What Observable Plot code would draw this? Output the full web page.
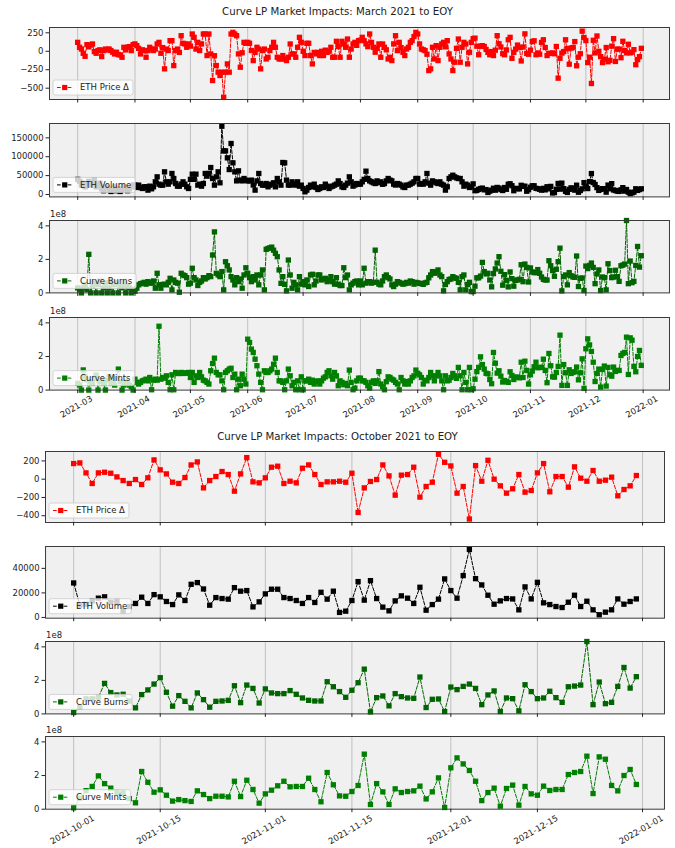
<!DOCTYPE html>
<html><head><meta charset="utf-8">
<script src="https://cdn.jsdelivr.net/npm/d3@7"></script>
<script src="https://cdn.jsdelivr.net/npm/@observablehq/plot@0.6"></script>
<style>
body{margin:0;background:#fff;font-family:"DejaVu Sans",sans-serif;}
#page{position:relative;width:675px;height:848px;overflow:hidden;}
.ttl{position:absolute;left:0;width:675px;text-align:center;font-size:10.2px;line-height:12px;color:#222;}
.panel{position:absolute;left:0;}
</style></head><body><div id="page"></div>
<script>
// ---- data: one value per day, 2021-03-01 .. 2021-12-31 ----
const startDay = "2021-03-01";
const priceDelta = [
 121,54,31,-27,-68,90,60,85,99,-4,-27,9,20,-72,9,30,18,31,10,-13,-36,-13,-45,-50,-81,54,18,54,63,9,90, // Mar
 100,76,40,-36,20,10,-81,10,54,30,10,30,99,121,-27,50,-238,30,10,144,144,-194,10,30,-15,211,108,99,54,99, // Apr
 70,234,189,30,121,10,99,234,234,-58,234,-36,-396,-60,-194,-283,-328,-283,-621,-283,-171,-283,234,256,234,211,-36,-216,-20,121,108, // May
 121,108,10,-126,-15,54,30,-238,10,30,-104,-81,10,54,121,54,-81,-104,-104,-58,-104,-126,-81,99,-36,-36,-81,54,189,121, // Jun
 0,-58,108,108,-58,-171,-15,-36,-15,-58,0,-58,15,-15,0,54,-81,-81,135,63,-81,135,99,54,166,-81,30,99,121,80,144, // Jul
 150,189,144,100,63,234,120,54,-13,40,99,-81,99,54,20,-104,-81,-126,100,211,9,121,50,-13,-58,31,54,121,144,200,256, // Aug
 234,99,31,20,9,-40,-261,-238,54,-104,76,-126,54,99,121,60,144,-36,-104,-261,-148,40,166,-148,54,121,99,-171,-13,121, // Sep
 171,178,69,-47,69,76,65,25,-15,-47,-4,-58,15,211,102,58,-33,-47,18,156,189,-95,-15,29,84,51,-131,58,236,-29,-40, // Oct
 15,131,142,-47,-22,-40,120,156,51,-58,-29,-29,-22,-33,65,-364,-95,-25,-4,156,36,-175,44,51,131,-196,-80,-33,273,185, // Nov
 145,-153,-80,-436,149,-22,207,0,-73,-153,-105,51,-142,-124,69,171,-138,29,29,-87,135,11,-22,95,-22,-11,22,-182,-113,-73,40 // Dec
];
const ethVolume = [
 40000,35000,25000,30000,20000,28000,35000,25000,30000,38000,20000,25000,30000,15000,10000,20000,18000,12000,8000,15000,20000,10000,15000,8000,12000,20000,18000,10000,15000,20000,25000,
 25000,18500,24700,18500,15900,20300,20300,11500,22000,15000,20300,33500,46700,27300,24700,24700,60000,33500,27300,33500,55600,42300,29000,22000,22000,27300,33500,27300,20300,15900,
 40000,53800,40000,53800,24700,27300,22000,29000,55600,48500,55600,71400,42300,24700,46700,60000,30900,180800,115500,115500,97000,66000,135000,83800,60000,36000,62600,38000,36000,42300,38000,
 36000,36000,38000,25000,11500,36000,55600,29000,24700,24700,29000,20300,24700,27300,31000,20300,42300,33500,24700,84700,83800,38000,25000,24700,33500,27300,24700,33500,22000,24700,
 15900,7000,11500,18500,24700,20300,27300,18500,13200,15900,20300,18500,27300,22000,15900,20300,22000,24700,27300,36000,29000,20300,18500,24700,30000,46700,33500,22000,25000,29000,27300,
 27300,33500,40000,61700,42300,36000,33500,31000,29000,36000,31000,33500,27000,29000,36000,42300,38000,36000,27300,25000,29000,27300,24700,20000,18500,24700,24700,27300,30000,33500,42300,
 42300,27300,29000,27300,33500,55600,30000,24700,36000,33500,31000,29000,33500,27300,24700,11500,20300,42300,46700,51000,46700,44000,42300,42300,33500,22000,27300,24700,18500,20300,
 28100,10000,10800,13500,15700,16800,12400,13000,5400,8900,11400,16500,11400,18600,16800,13000,10500,18400,13800,27000,28400,23200,10000,16200,15400,14900,24300,21400,21900,8600,12700,
 19200,23000,23000,16200,15400,13800,11400,16200,12200,20500,14900,21400,4100,5100,13800,29200,14100,30000,15400,8400,5400,13500,17600,15700,11400,24600,5900,10500,14900,31400,
 21900,15700,34100,55400,31600,26500,18100,10800,13500,15400,15100,6200,24900,15100,28600,11900,10500,8900,8100,12400,18100,8900,13200,6200,2200,4300,6200,15100,10800,13000,15100
];
// Curve burns / mints in units of 1e8
const curveBurns = [
 0.3,0.2,0.0,0.3,0.5,0.2,2.3,0.0,0.4,0.6,0.0,0.5,0.7,0.0,0.3,0.6,0.0,0.3,0.7,0.0,0.5,0.6,0.0,0.4,0.3,0.6,0.0,0.4,0.3,0.0,0.2,
 0.1,0.28,0.48,0.55,0.58,0.63,0.52,0.67,0.6,0.58,0.71,0.28,1.17,0.48,0.28,0.5,0.52,0.48,0.63,0.87,0.18,0.77,0.63,0.58,0.04,1.17,1.07,1.03,0.91,0.52,
 0.58,1.47,0.91,0.77,0.44,0.63,0.71,0.91,0.83,0.91,1.03,0.97,2.26,3.64,1.17,1.07,0.97,1.27,0.18,1.86,1.62,1.37,0.97,0.77,0.48,0.91,0.67,0.83,0.28,1.07,1.5,
 1.17,0.91,0.67,0.97,0.77,1.07,0.48,1.07,1.37,0.18,2.6,2.65,2.69,2.73,2.55,2.36,2.16,1.37,0.57,0.97,0.51,0.12,1.96,1.07,0.28,0.63,0.48,0.18,0.97,0.52,
 0.67,0.48,0.77,0.38,1.07,1.11,0.48,0.71,1.07,1.07,0.77,0.83,0.87,0.67,0.77,0.97,0.67,0.52,0.91,0.52,0.44,0.44,1.5,0.91,1.07,0.18,0.48,0.58,0.67,0.71,0.48,
 0.71,0.48,1.47,0.58,0.67,0.67,0.58,0.63,2.55,0.63,0.52,0.48,0.71,0.97,1.07,0.91,0.83,0.48,0.38,0.52,0.67,0.63,0.58,0.52,0.55,0.63,0.58,0.71,0.67,0.52,0.63,
 0.6,0.57,0.55,0.51,0.6,0.63,0.9,1.07,1.27,1.17,1.25,1.37,1.07,0.97,0.12,0.5,0.67,0.8,0.83,0.97,0.9,0.87,0.63,0.18,0.97,1.07,0.18,0.5,0.63,0.08,
 0.08,0.4,0.9,0.9,1.0,1.82,1.27,1.13,1.17,0.77,0.36,1.15,1.43,1.78,2.16,1.29,0.46,1.09,0.75,0.36,1.25,0.85,0.40,0.75,0.77,0.81,1.68,0.67,1.72,1.52,0.65,
 1.49,1.25,1.21,1.21,1.39,1.17,0.95,0.81,0.77,0.77,1.92,1.62,1.33,0.99,1.41,1.86,2.67,0.12,0.97,1.07,0.48,1.21,1.03,0.95,0.93,2.2,0.38,0.87,0.89,0.14,
 1.6,1.45,1.64,1.78,1.52,0.55,1.13,1.37,0.14,0.95,0.91,0.18,1.74,1.33,0.91,0.95,1.35,0.97,0.69,1.62,1.66,1.72,4.32,0.55,1.9,0.61,0.69,1.64,2.77,1.54,2.22
];
const curveMints = [
 0.4,0.3,0.0,1.2,0.8,0.6,0.0,0.5,0.4,0.7,0.9,0.0,0.5,0.6,0.4,0.0,0.6,0.8,0.4,0.6,0.3,0.7,1.25,0.5,0.0,0.3,0.5,0.4,0.3,0.2,0.0,
 0.65,0.46,0.36,0.46,0.55,0.59,0.65,0.55,0.75,0.02,0.59,0.65,0.59,3.8,0.65,0.75,0.71,0.85,0.46,0.02,0.91,0.02,1.05,0.99,0.99,1.05,0.99,1.03,1.0,1.05,
 0.75,1.05,0.46,0.85,0.75,1.05,0.79,0.59,0.55,0.46,0.36,1.15,1.58,1.9,1.05,0.91,0.91,0.55,0.02,1.05,1.15,1.25,1.3,0.75,0.95,0.02,0.65,0.26,0.95,0.65,0.36,
 3.03,2.83,2.44,2.24,1.84,1.45,0.95,0.46,0.02,1.15,1.05,1.05,1.15,1.25,1.54,1.9,1.05,0.55,0.55,0.46,0.02,0.55,1.25,0.85,0.26,0.46,0.02,0.55,0.02,0.79,
 0.02,0.55,0.55,0.65,0.46,0.59,0.36,0.51,0.55,0.36,0.55,0.71,0.79,1.05,1.15,0.85,0.65,1.05,0.85,0.26,0.55,0.46,0.32,0.40,0.26,1.19,0.46,0.02,0.12,0.55,0.71,
 0.71,0.55,0.55,0.46,0.26,0.12,0.46,0.55,0.4,0.55,1.1,0.36,0.2,0.02,0.5,0.79,0.75,0.65,0.59,0.46,0.36,0.02,0.75,0.55,0.36,0.51,0.36,0.55,0.75,0.85,1.19,
 1.0,0.91,0.75,0.36,0.59,0.55,0.75,1.05,0.85,0.55,0.85,1.05,0.85,0.55,0.02,0.85,0.55,0.59,0.75,0.99,0.85,0.7,1.35,0.85,0.02,1.05,0.46,0.02,1.35,0.02,
 0.08,0.65,1.1,1.35,1.98,1.52,1.25,1.0,0.97,0.63,0.38,2.24,1.6,1.01,1.15,0.83,0.48,0.57,0.51,0.46,1.09,0.87,0.63,0.77,0.77,0.73,1.66,0.75,1.72,1.17,0.36,
 0.91,1.13,1.39,1.66,1.33,1.35,1.35,1.84,1.17,0.44,2.18,1.45,0.79,0.77,1.05,1.41,3.27,0.28,1.52,1.03,0.28,1.21,0.99,1.05,1.09,1.37,0.61,1.03,1.86,0.1,
 2.46,3.05,2.69,2.3,1.66,0.51,0.99,1.25,0.18,1.23,1.43,0.24,1.35,0.91,0.83,1.37,1.11,1.17,1.17,2.06,2.18,2.24,3.15,0.93,3.11,2.97,1.41,1.09,2.0,2.36,1.47
];
const seriesLabels = ["ETH Price Δ", "ETH Volume", "Curve Burns", "Curve Mints"];
const seriesColors = ["#ff0000", "#000000", "#006400", "#008000"];
const titles = ["Curve LP Market Impacts: March 2021 to EOY", "Curve LP Market Impacts: October 2021 to EOY"];
const topTickDates = ["2021-03-01","2021-04-01","2021-05-01","2021-06-01","2021-07-01","2021-08-01","2021-09-01","2021-10-01","2021-11-01","2021-12-01","2022-01-01"];
const bottomTickDates = ["2021-10-01","2021-10-15","2021-11-01","2021-11-15","2021-12-01","2021-12-15","2022-01-01"];
const bottomStart = "2021-10-01";

// ---- build table ----
const t0 = Date.parse(startDay + "T00:00:00Z");
const table = priceDelta.map((v, i) => ({
  date: new Date(t0 + i * 864e5),
  price: v, volume: ethVolume[i], burns: curveBurns[i], mints: curveMints[i]
}));
const bStart = Date.parse(bottomStart + "T00:00:00Z");
const tableB = table.filter(d => +d.date >= bStart);

function padDomain(rows) {
  const a = +rows[0].date, b = +rows[rows.length - 1].date, p = (b - a) * 0.05;
  return [new Date(a - p), new Date(b + p)];
}
const toDates = arr => arr.map(s => new Date(s + "T00:00:00Z"));
const fmtMinus = d => d < 0 ? "\u2212" + Math.abs(d) : String(d);

const page = document.getElementById("page");
function addTitle(text, top) {
  const el = document.createElement("div");
  el.className = "ttl"; el.style.top = top + "px"; el.textContent = text;
  page.appendChild(el);
}

function panel(cfg) {
  const {rows, key, color, label, xDomain, xTicks, xFmt, showX, dyLabel, yDomain, yTicks, yFmt, fr, offsetText} = cfg;
  const top = fr.top - 13;
  const bottom = fr.bottom + (showX ? 40 : 5);
  const plot = Plot.plot({
    width: 675, height: bottom - top,
    marginLeft: fr.left, marginRight: 675 - fr.right,
    marginTop: fr.top - top, marginBottom: bottom - fr.bottom,
    style: {background: "transparent", fontFamily: "DejaVu Sans", fontSize: "8.5px", color: "#222", overflow: "visible"},
    x: {type: "utc", domain: xDomain},
    y: {domain: yDomain},
    marks: [
      Plot.frame({fill: "#f0f0f0"}),
      Plot.ruleX(xTicks, {stroke: "#b4b4b4", strokeWidth: 0.8}),
      Plot.line(rows, {x: "date", y: key, stroke: color, strokeWidth: 1, strokeDasharray: "3.7,1.6"}),
      Plot.dot(rows, {x: "date", y: key, symbol: "square", r: 3.0, fill: color}),
      Plot.frame({stroke: "#3a3a3a", strokeWidth: 1}),
      Plot.axisX({ticks: xTicks, tickSize: 3.5, tickFormat: () => "", label: null}),
      Plot.axisY({ticks: yTicks, tickSize: 3.5, tickPadding: 2.5, tickFormat: yFmt, label: null, fontSize: 8.5}),
      showX ? Plot.text(xTicks, {x: d => d, frameAnchor: "bottom", dy: dyLabel, rotate: -30, text: xFmt, fontSize: 8.5, fill: "#222"}) : null
    ]
  });
  const wrap = document.createElement("div");
  wrap.className = "panel"; wrap.style.top = top + "px";
  wrap.appendChild(plot);
  page.appendChild(wrap);
  const svg = d3.select(plot);
  if (offsetText) {
    svg.append("text").attr("x", fr.left + 1).attr("y", fr.top - top - 2.5).attr("text-anchor", "start")
      .attr("font-size", 8.5).attr("fill", "#222").attr("font-family", "DejaVu Sans").text(offsetText);
  }
  // legend (bottom-left box)
  const bx = fr.left + 4, bh = 15, by = (fr.bottom - top) - 4 - bh;
  const g = svg.append("g").attr("text-anchor", "start");
  const box = g.append("rect").attr("x", bx).attr("y", by).attr("height", bh).attr("rx", 2)
    .attr("fill", "white").attr("fill-opacity", 0.8).attr("stroke", "#cccccc").attr("stroke-width", 0.8);
  g.append("line").attr("x1", bx + 4).attr("x2", bx + 19).attr("y1", by + bh / 2).attr("y2", by + bh / 2)
    .attr("stroke", color).attr("stroke-width", 1).attr("stroke-dasharray", "3.7,1.6");
  g.append("rect").attr("x", bx + 11.7 - 2.6).attr("y", by + bh / 2 - 2.6).attr("width", 5.2).attr("height", 5.2).attr("fill", color);
  const tx = g.append("text").attr("x", bx + 27).attr("y", by + bh / 2).attr("dy", "0.35em").attr("text-anchor", "start")
    .attr("font-size", 8.5).attr("font-family", "DejaVu Sans").attr("fill", "#222").text(label);
  let w = 50;
  try { w = tx.node().getComputedTextLength(); } catch (e) {}
  box.attr("width", 27 + w + 4);
}

function figure(rows, fr, panels, xTicks, xFmt, dyLabel) {
  const xDomain = padDomain(rows);
  const keys = ["price", "volume", "burns", "mints"];
  panels.forEach((p, i) => panel({
    rows, key: keys[i], color: seriesColors[i], label: seriesLabels[i],
    xDomain, xTicks, xFmt, showX: i === 3, dyLabel,
    yDomain: p.yDomain, yTicks: p.yTicks, yFmt: p.yFmt,
    fr: {left: fr.left, right: fr.right, top: p.top, bottom: p.bottom},
    offsetText: p.offset
  }));
}

addTitle(titles[0], 6);
figure(table, {left: 49, right: 669}, [
  {top: 27, bottom: 99, yDomain: [-653, 322], yTicks: [-500, -250, 0, 250], yFmt: fmtMinus},
  {top: 123.3, bottom: 196.7, yDomain: [-6400, 188000], yTicks: [0, 50000, 100000, 150000], yFmt: d => String(d)},
  {top: 220.3, bottom: 292.7, yDomain: [0, 4.32], yTicks: [0, 2, 4], yFmt: d => String(d), offset: "1e8"},
  {top: 316.7, bottom: 389.3, yDomain: [0, 4.32], yTicks: [0, 2, 4], yFmt: d => String(d), offset: "1e8"}
], toDates(topTickDates), d3.utcFormat("%Y-%m"), 19);

addTitle(titles[1], 431);
figure(tableB, {left: 45, right: 664}, [
  {top: 451.3, bottom: 522.3, yDomain: [-474, 303], yTicks: [-400, -200, 0, 200], yFmt: fmtMinus},
  {top: 546.3, bottom: 618, yDomain: [-600, 57800], yTicks: [0, 20000, 40000], yFmt: d => String(d)},
  {top: 641.3, bottom: 713.7, yDomain: [0, 4.32], yTicks: [0, 2, 4], yFmt: d => String(d), offset: "1e8"},
  {top: 736, bottom: 808.7, yDomain: [0, 4.32], yTicks: [0, 2, 4], yFmt: d => String(d), offset: "1e8"}
], toDates(bottomTickDates), d3.utcFormat("%Y-%m-%d"), 23);
</script></body></html>
